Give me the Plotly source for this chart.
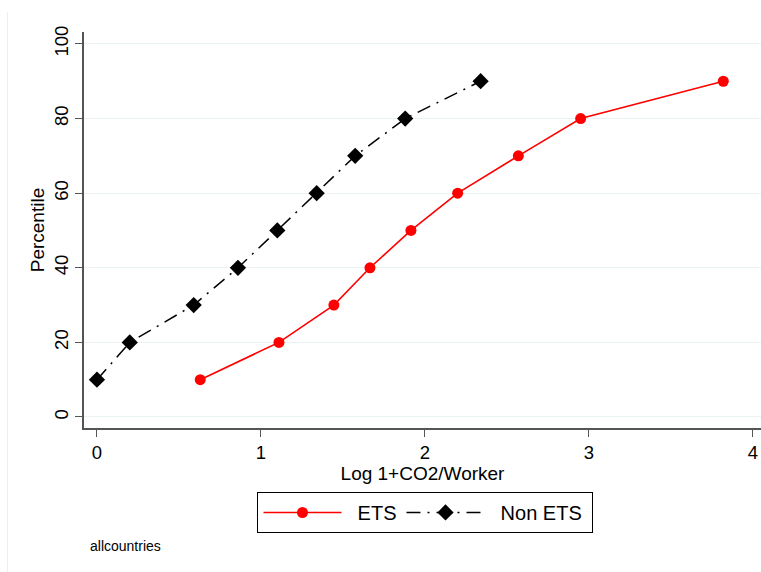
import plotly.graph_objects as go

percentiles = [10, 20, 30, 40, 50, 60, 70, 80, 90]
ets_x = [0.63, 1.11, 1.445, 1.665, 1.915, 2.20, 2.57, 2.95, 3.82]
non_ets_x = [0.0, 0.20, 0.59, 0.86, 1.10, 1.34, 1.575, 1.88, 2.34]
x_ticks = [0, 1, 2, 3, 4]
y_ticks = [0, 20, 40, 60, 80, 100]
series_names = ["ETS", "Non ETS"]

W, H = 761, 572
L, R, T, B = 84, 0, 32, 144
GAP = "\u00a0\u00a0"

fig = go.Figure()
fig.add_trace(go.Scatter(
    x=ets_x, y=percentiles, name=GAP + series_names[0], mode="lines+markers",
    line=dict(color="#ff0000", width=1.6),
    marker=dict(symbol="circle", size=11, color="#ff0000"),
))
fig.add_trace(go.Scatter(
    x=non_ets_x, y=percentiles, name=GAP + series_names[1] + "\u00a0", mode="lines+markers",
    line=dict(color="#000000", width=1.5, dash="14px,7px,2px,7px"),
    marker=dict(symbol="diamond", size=12.5, color="#000000"),
))

font = "Liberation Sans, Arial, sans-serif"
fig.update_layout(
    width=W, height=H,
    margin=dict(l=L, r=R, t=T, b=B, pad=0),
    paper_bgcolor="white", plot_bgcolor="white",
    font=dict(family=font, size=19, color="black"),
    showlegend=True,
    legend=dict(
        orientation="h", x=0.5044, y=-0.1616, xanchor="center", yanchor="top",
        bordercolor="black", borderwidth=1, itemwidth=78,
        font=dict(size=20), traceorder="normal",
    ),
    xaxis=dict(
        range=[-0.079, 4.05], tickvals=x_ticks, ticktext=[str(v) for v in x_ticks],
        showgrid=False, zeroline=False, showline=True, linecolor="#555555", linewidth=1.5,
        ticks="outside", ticklen=7, tickcolor="#555555", tickwidth=1,
        tickfont=dict(size=18.5),
        title=dict(text="Log 1+CO2/Worker", font=dict(size=19), standoff=2),
    ),
    yaxis=dict(
        range=[-2.95, 103.2], tickvals=y_ticks, ticktext=[str(v) for v in y_ticks],
        showgrid=True, gridcolor="#eaf2f3", gridwidth=1.2,
        zeroline=False, showline=True, linecolor="#555555", linewidth=1.5,
        ticks="outside", ticklen=7, tickcolor="#555555", tickwidth=1,
        tickangle=-90, tickfont=dict(size=18.5),
        title=dict(text="Percentile", font=dict(size=19), standoff=1),
    ),
)

fig.add_annotation(
    text="allcountries", xref="paper", yref="paper",
    x=(88 - L) / (W - L - R), y=(H - B - 546) / (H - T - B),
    xanchor="left", yanchor="middle", showarrow=False,
    font=dict(size=14, family=font, color="black"),
)
fig.add_shape(
    type="line", xref="paper", yref="paper",
    x0=(7.5 - L) / (W - L - R), x1=(7.5 - L) / (W - L - R),
    y0=(H - B - 12) / (H - T - B), y1=(H - B - 572) / (H - T - B),
    line=dict(color="#eeeeee", width=1),
)

fig.write_html("out.html")
